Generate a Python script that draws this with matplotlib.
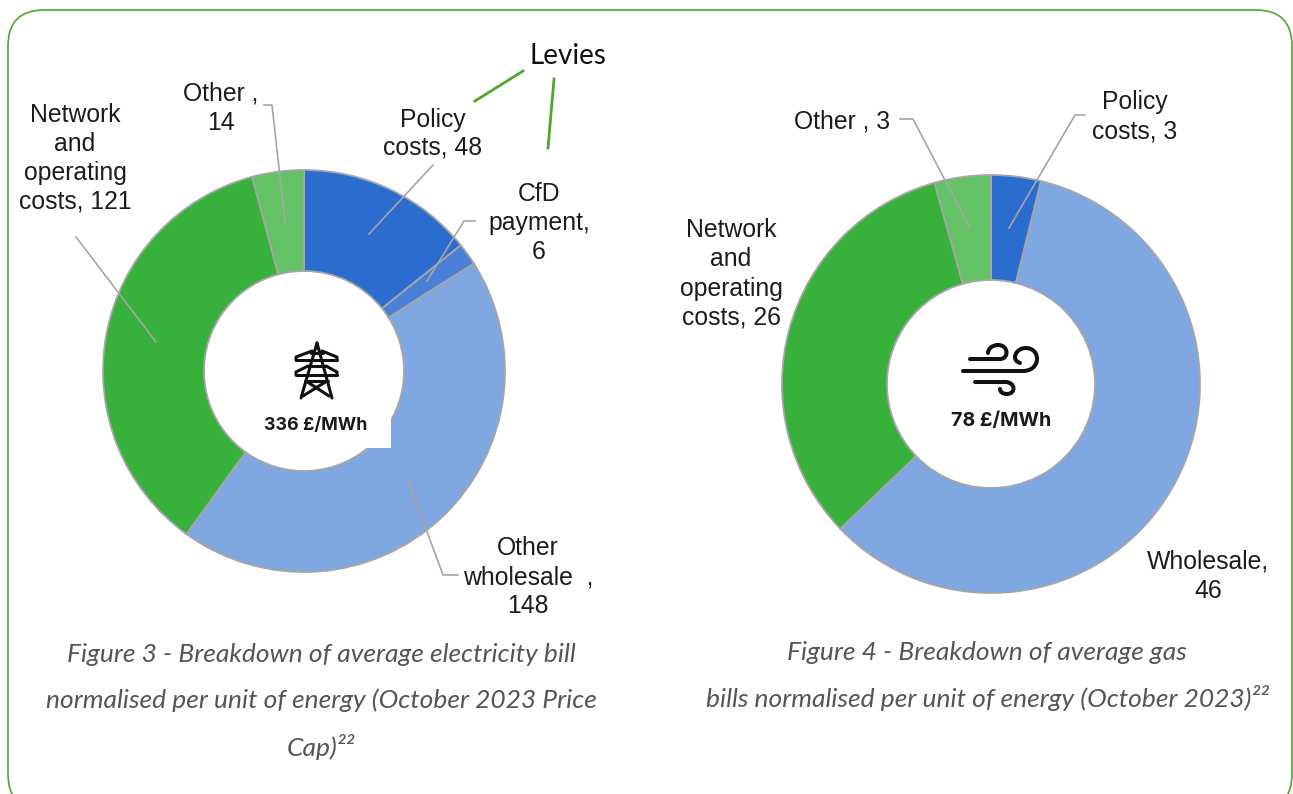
import matplotlib
matplotlib.use("Agg")
import matplotlib.pyplot as plt
from matplotlib.patches import FancyBboxPatch, Rectangle, PathPatch
from matplotlib.path import Path

W, H = 1293, 794

elec_categories = ["Policy costs", "CfD payment", "Other wholesale", "Network and operating costs", "Other"]
elec_values = [48, 6, 148, 121, 14]
gas_categories = ["Policy costs", "Wholesale", "Network and operating costs", "Other"]
gas_values = [3, 46, 25.6, 3.4]

C_POLICY, C_CFD, C_WHOLE, C_NET, C_OTHER = "#2B6CCF", "#4A80D8", "#7FA7E2", "#38B03C", "#62C265"
elec_colors = [C_POLICY, C_CFD, C_WHOLE, C_NET, C_OTHER]
gas_colors = [C_POLICY, C_WHOLE, C_NET, C_OTHER]

fig = plt.figure(figsize=(W / 100, H / 100), dpi=100, facecolor="white")
ax = fig.add_axes([0, 0, 1, 1])
ax.set_xlim(0, W)
ax.set_ylim(0, H)
ax.axis("off")


def Y(y):
    return H - y


# frame
ax.add_patch(FancyBboxPatch((8 + 36, Y(810) + 36), 1284 - 72, 800 - 72,
                            boxstyle="round,pad=36,rounding_size=36",
                            fc="white", ec="#4EA72E", lw=1.2, clip_on=True))


def donut(values, colors, cx, cy, r, rin):
    ax.pie(values, colors=colors, startangle=90, counterclock=False,
           center=(cx, Y(cy)), radius=r, frame=False,
           wedgeprops=dict(width=r - rin, edgecolor="#A6A6A6", linewidth=1.3))


donut(elec_values, elec_colors, 304, 371, 201, 100)
donut(gas_values, gas_colors, 991, 384, 209, 104)
ax.set_xlim(0, W)
ax.set_ylim(0, H)
ax.set_aspect("auto")
ax.axis("off")

# white patch behind the left centre label
ax.add_patch(Rectangle((335, Y(448)), 56, 38, fc="white", ec="none", zorder=3))

LAB = dict(family="Liberation Sans", fontsize=17.8, color="#1c1c1c", ha="center",
           va="center", linespacing=1.0, zorder=6)


def lab(x, y, s, **kw):
    ax.text(x, Y(y), s, **{**LAB, **kw})


def multi(x, ys, lines):
    for yy, ln in zip(ys, lines):
        lab(x, yy, ln)


multi(75, [115, 144, 173, 202], ["Network", "and", "operating", f"costs, {elec_values[3]:.0f}"])
multi(221, [94, 123], ["Other ,", f"{elec_values[4]:.0f}"])
multi(433, [120, 148], ["Policy", f"costs, {elec_values[0]:.0f}"])
multi(539, [194, 223, 252], ["CfD", "payment,", f"{elec_values[1]:.0f}"])
multi(528, [548, 577, 606], ["Other", "wholesale  ,", f"{elec_values[2]:.0f}"])
multi(731, [230, 259, 289, 318], ["Network", "and", "operating", f"costs, {gas_values[2]:.0f}"])
lab(842, 121, f"Other , {gas_values[3]:.0f}")
multi(1135, [102, 131], ["Policy", f"costs, {gas_values[0]:.0f}"])
multi(1208, [562, 591], ["Wholesale,", f"{gas_values[1]:.0f}"])

leaders = [
    [(433, 165), (369, 234)],
    [(475, 221), (464, 221), (427, 281)],
    [(458, 575), (443, 575), (408, 480)],
    [(76, 237), (156, 342)],
    [(264, 105), (272, 105), (285, 222)],
    [(1085, 115), (1075, 115), (1009, 228)],
    [(900, 119), (913, 119), (970, 228)],
]
for pts in leaders:
    ax.plot([p[0] for p in pts], [Y(p[1]) for p in pts], color="#A6A6A6", lw=1.2, zorder=5)

# levies annotation
lab(568, 56, "Levies", family="Lato", fontsize=20.0, color="#111111")
for pts in ([(523, 71), (475, 101)], [(554, 79), (548, 148)]):
    ax.plot([p[0] for p in pts], [Y(p[1]) for p in pts], color="#4EA72E", lw=2.0, zorder=5)

# centre labels
CEN = dict(family="Inter", weight="bold", color="#1a1a1a", ha="center", va="center", zorder=6)
ax.text(316, Y(425), "336 £/MWh", fontsize=12.8, **CEN)
ax.text(1001, Y(421), "78 £/MWh", fontsize=14.2, **CEN)

# pylon icon
ICON = dict(color="#111111", solid_capstyle="round", solid_joinstyle="round", zorder=6)
pylon = [
    [(317, 343), (301, 398)], [(317, 343), (332, 398)],
    [(296, 360), (337, 360)], [(296, 375), (337, 375)],
    [(296, 360), (296, 357), (312, 351)], [(337, 360), (337, 357), (322, 351)],
    [(296, 375), (296, 372), (308, 366)], [(337, 375), (337, 372), (326, 366)],
    [(311, 353), (323, 353)], [(308, 366), (326, 366)],
    [(306, 381), (329, 396)], [(327, 381), (303, 396)],
    [(305, 381), (328, 381)],
]
for pts in pylon:
    ax.plot([p[0] for p in pts], [Y(p[1]) for p in pts], lw=2.2, **ICON)


# wind icon
def curve(pts):
    codes = [Path.MOVETO] + [Path.CURVE4] * (len(pts) - 1)
    ax.add_patch(PathPatch(Path([(x, Y(y)) for x, y in pts], codes), fc="none", ec="#111111",
                           lw=2.9, capstyle="round", zorder=6))


for seg in ([(970, 359), (980, 359), (990, 359), (1000, 359),
             (1009, 359), (1009, 345), (998, 345),
             (992, 345), (988, 349), (988, 353)],
            [(963, 371), (985, 371), (1005, 371), (1023, 371),
             (1032, 371), (1037, 365), (1037, 359),
             (1037, 352), (1032, 348), (1026, 348),
             (1019, 348), (1015, 353), (1015, 357),
             (1015, 360), (1017, 362), (1020, 363)],
            [(975, 382), (985, 382), (995, 382), (1005, 382),
             (1016, 382), (1016, 394), (1007, 394),
             (1003, 394), (1000, 392), (1000, 389)]):
    curve(seg)

# captions
CAP = dict(family="Lato", style="italic", fontsize=19.0, color="#555555",
           ha="center", va="center", zorder=6)
ax.text(321, Y(654), "Figure 3 - Breakdown of average electricity bill", **CAP)
ax.text(321, Y(700), "normalised per unit of energy (October 2023 Price", **CAP)
ax.text(321, Y(747), "Cap)²²", **CAP)
ax.text(987, Y(652), "Figure 4 - Breakdown of average gas", **CAP)
ax.text(987, Y(698), "bills normalised per unit of energy (October 2023)²²", **CAP)

fig.savefig("out.png", dpi=100)
